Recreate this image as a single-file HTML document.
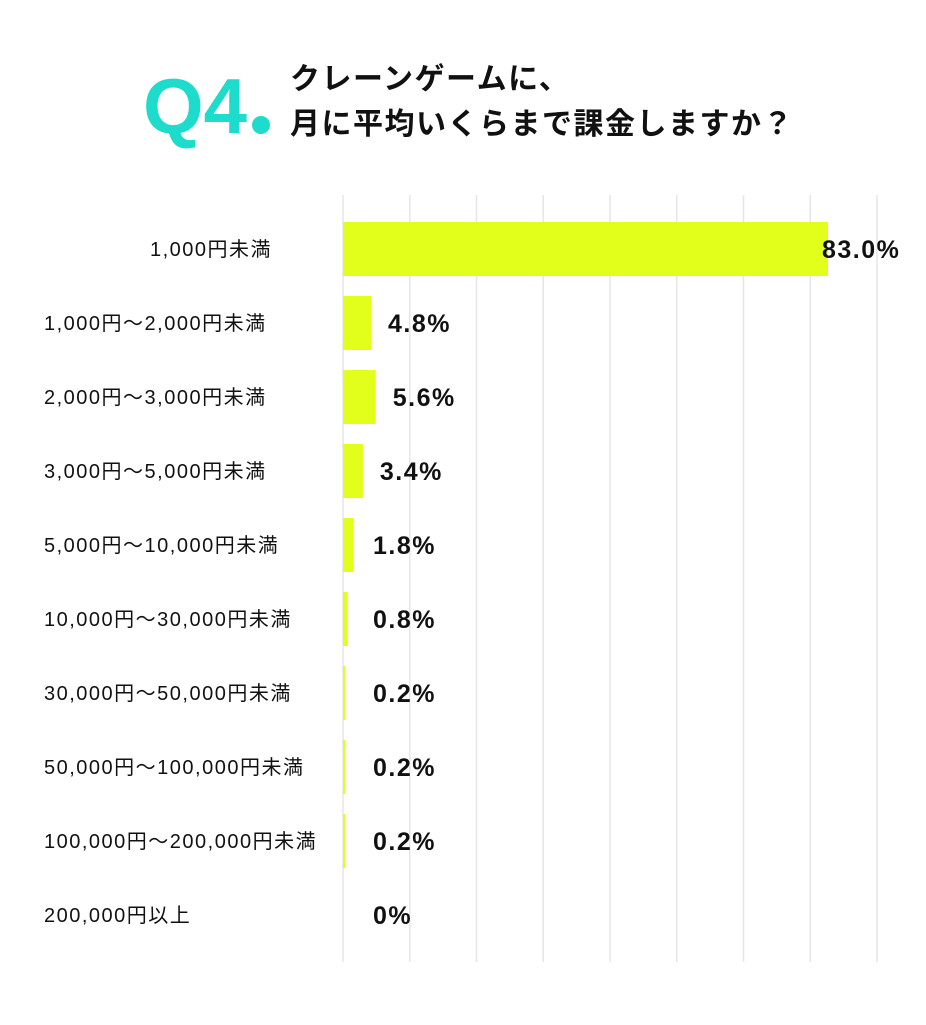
<!DOCTYPE html>
<html><head><meta charset="utf-8"><style>
body{margin:0;width:926px;height:1020px;background:#fff;overflow:hidden;font-family:"Liberation Sans","Noto Sans CJK JP",sans-serif}
</style></head><body>
<svg width="926" height="1020" xmlns="http://www.w3.org/2000/svg">
<text x="143" y="133" font-size="78" font-weight="bold" fill="#1ddccc" font-family="Liberation Sans, sans-serif">Q4</text>
<circle cx="261" cy="125" r="9" fill="#1ddccc"/>
<text x="290" y="89" font-size="30" font-weight="bold" fill="#111" letter-spacing="1.5">クレーンゲームに、</text>
<text x="290" y="134" font-size="30" font-weight="bold" fill="#111" letter-spacing="1.5">月に平均いくらまで課金しますか？</text>
<g id="grid"></g>
<g id="bars"></g>
</svg>
<script>
const categories=["1,000円未満","1,000円〜2,000円未満","2,000円〜3,000円未満","3,000円〜5,000円未満","5,000円〜10,000円未満","10,000円〜30,000円未満","30,000円〜50,000円未満","50,000円〜100,000円未満","100,000円〜200,000円未満","200,000円以上"];
const values=[83.0,4.8,5.6,3.4,1.8,0.8,0.2,0.2,0.2,0];
const valueLabels=["83.0%","4.8%","5.6%","3.4%","1.8%","0.8%","0.2%","0.2%","0.2%","0%"];
const NS="http://www.w3.org/2000/svg";
const x0=343,pxPer=5.843,rowStart=249,rowStep=74,barH=54;
const xs=v=>x0+v*pxPer;
const ys=i=>rowStart+i*rowStep;
const grid=document.getElementById('grid'),bars=document.getElementById('bars');
for(let k=0;k<9;k++){
 const l=document.createElementNS(NS,'line');
 const gx=x0+k*66.75;
 l.setAttribute('x1',gx);l.setAttribute('x2',gx);l.setAttribute('y1',195);l.setAttribute('y2',962);
 l.setAttribute('stroke','#e6e6e6');l.setAttribute('stroke-width','1.5');
 
 
 grid.appendChild(l);
}
categories.forEach((c,i)=>{
 const cy=ys(i);
 const t=document.createElementNS(NS,'text');
 t.setAttribute('x',i===0?150:44);t.setAttribute('y',cy+7);
 t.setAttribute('font-size','20');t.setAttribute('letter-spacing','1.5');t.setAttribute('fill','#111');
 t.textContent=c;
 
 
 bars.appendChild(t);
 const w=Math.max(xs(values[i])-x0,values[i]>0?2:0);
 const r=document.createElementNS(NS,'rect');
 r.setAttribute('x',x0);r.setAttribute('y',cy-barH/2);r.setAttribute('width',w);r.setAttribute('height',barH);
 r.setAttribute('fill','#e1ff1a');
 
 
 bars.appendChild(r);
 const v=document.createElementNS(NS,'text');
 const vx=i===0?xs(values[i])-6:Math.max(xs(values[i])+17,373);
 v.setAttribute('x',vx);v.setAttribute('y',cy+9);
 v.setAttribute('font-size','25');v.setAttribute('letter-spacing','1.5');v.setAttribute('font-weight','bold');v.setAttribute('fill','#111');
 v.textContent=valueLabels[i];
 
 
 bars.appendChild(v);
});
</script>
</body></html>
